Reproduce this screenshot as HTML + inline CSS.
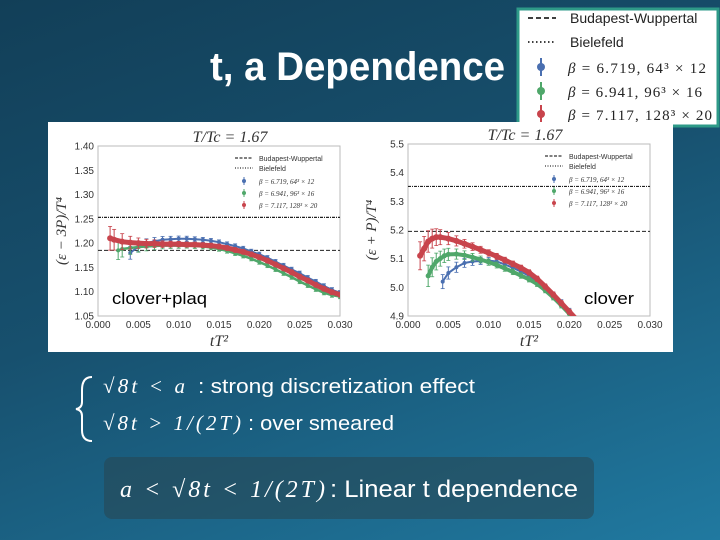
<!DOCTYPE html>
<html><head><meta charset="utf-8"><style>
body{margin:0;width:720px;height:540px;overflow:hidden;background:linear-gradient(160deg,#123f58 0%,#17506e 45%,#2079a0 100%);font-family:"Liberation Sans",sans-serif}
svg{position:absolute;left:0;top:0}
</style></head><body>
<svg width="720" height="540">
<text x="210" y="80" font-size="40" font-weight="bold" fill="#fff" textLength="295" lengthAdjust="spacingAndGlyphs">t, a Dependence</text>
<g>
<rect x="518" y="9" width="200" height="117" fill="#fff" stroke="#2e9a88" stroke-width="3"/>
<line x1="528" y1="18" x2="556" y2="18" stroke="#000" stroke-dasharray="5,3" stroke-width="1.5"/>
<text x="570" y="23" font-size="14" fill="#222">Budapest-Wuppertal</text>
<line x1="528" y1="42" x2="556" y2="42" stroke="#000" stroke-dasharray="1.5,2.5" stroke-width="1.5"/>
<text x="570" y="47" font-size="14" fill="#222">Bielefeld</text>
<g font-family="Liberation Serif" font-size="15" fill="#222">
<line x1="541" y1="58" x2="541" y2="76" stroke="#4a6fb0" stroke-width="2"/><circle cx="541" cy="67" r="4" fill="#4a6fb0"/>
<text x="568" y="73" textLength="138"><tspan font-style="italic">β</tspan> = 6.719, 64³ × 12</text>
<line x1="541" y1="82" x2="541" y2="100" stroke="#4fa76a" stroke-width="2"/><circle cx="541" cy="91" r="4" fill="#4fa76a"/>
<text x="568" y="97" textLength="134"><tspan font-style="italic">β</tspan> = 6.941, 96³ × 16</text>
<line x1="541" y1="105" x2="541" y2="123" stroke="#c8444c" stroke-width="2"/><circle cx="541" cy="114" r="4" fill="#c8444c"/>
<text x="568" y="120" textLength="144"><tspan font-style="italic">β</tspan> = 7.117, 128³ × 20</text>
</g></g>
<rect x="48" y="122" width="625" height="230" fill="#fff"/>
<g id="plots"></g>
<text x="112" y="304" font-size="17" fill="#000" textLength="95" lengthAdjust="spacingAndGlyphs">clover+plaq</text>
<text x="584" y="304" font-size="17" fill="#000" textLength="50" lengthAdjust="spacingAndGlyphs">clover</text>
<g fill="#fff">
<path d="M92,377 Q82,377 82,390 L82,402 Q82,408 76,409 Q82,410 82,416 L82,430 Q82,441 92,441" fill="none" stroke="#fff" stroke-width="2"/>
<text x="103" y="393" font-family="Liberation Serif" font-size="21" font-style="italic" textLength="82">√8t &lt; a</text>
<text x="198" y="393" font-size="20" textLength="277" lengthAdjust="spacingAndGlyphs">: strong discretization effect</text>
<text x="103" y="430" font-family="Liberation Serif" font-size="21" font-style="italic" textLength="138">√8t &gt; 1/(2T)</text>
<text x="248" y="430" font-size="20" textLength="146" lengthAdjust="spacingAndGlyphs">: over smeared</text>
</g>
<rect x="104" y="457" width="490" height="62" rx="8" fill="rgba(40,70,80,0.55)"/>
<text x="120" y="497" font-family="Liberation Serif" font-size="24" font-style="italic" fill="#fff" textLength="205">a &lt; √8t &lt; 1/(2T)</text>
<text x="330" y="497" font-size="24" fill="#fff" textLength="248" lengthAdjust="spacingAndGlyphs">: Linear t dependence</text>
</svg>
<script>
const xTicks=["0.000","0.005","0.010","0.015","0.020","0.025","0.030"];
const leftYTicks=[1.05,1.10,1.15,1.20,1.25,1.30,1.35,1.40];
const rightYTicks=[4.9,5.0,5.1,5.2,5.3,5.4,5.5];
const leftRefBW=1.185, leftRefBI=1.253, rightRefBW=5.195, rightRefBI=5.352;
const LredX=[.0015,.002,.003,.004,.005,.006,.007,.008,.009,.010,.011,.012,.013,.014,.015,.016,.017,.018,.019,.020,.021,.022,.023,.024,.025,.026,.027,.028,.029,.030];
const LredY=[1.21,1.207,1.203,1.201,1.200,1.199,1.199,1.198,1.198,1.198,1.197,1.197,1.196,1.195,1.193,1.190,1.186,1.182,1.177,1.171,1.164,1.156,1.148,1.140,1.131,1.123,1.114,1.106,1.099,1.094];
const LblueX=[.004,.005,.006,.007,.008,.009,.010,.011,.012,.013,.014,.015,.016,.017,.018,.019,.020,.021,.022,.023,.024,.025,.026,.027,.028,.029,.030];
const LblueY=[1.18,1.193,1.200,1.204,1.207,1.208,1.209,1.209,1.208,1.207,1.205,1.202,1.198,1.194,1.189,1.183,1.177,1.170,1.162,1.154,1.146,1.138,1.129,1.121,1.112,1.104,1.098];
const LgreenX=[.0025,.003,.004,.005,.006,.007,.008,.009,.010,.011,.012,.013,.014,.015,.016,.017,.018,.019,.020,.021,.022,.023,.024,.025,.026,.027,.028,.029,.030];
const LgreenY=[1.185,1.188,1.190,1.192,1.193,1.194,1.195,1.195,1.195,1.195,1.194,1.193,1.191,1.188,1.184,1.179,1.174,1.168,1.161,1.154,1.146,1.138,1.130,1.121,1.113,1.105,1.098,1.093,1.090];
const RredX=[.0015,.002,.0025,.003,.0035,.004,.005,.006,.007,.008,.009,.010,.011,.012,.013,.014,.015,.016,.017,.018,.019,.020,.021];
const RredY=[5.11,5.135,5.16,5.17,5.175,5.175,5.17,5.162,5.152,5.142,5.131,5.12,5.108,5.095,5.082,5.068,5.052,5.030,5.003,4.975,4.945,4.915,4.885];
const RgreenX=[.0025,.003,.0035,.004,.0045,.005,.006,.007,.008,.009,.010,.011,.012,.013,.014,.015,.016,.017,.018,.019,.020,.021];
const RgreenY=[5.04,5.07,5.09,5.10,5.11,5.115,5.116,5.112,5.105,5.097,5.088,5.078,5.066,5.054,5.041,5.028,5.012,4.99,4.965,4.937,4.908,4.88];
const RblueX=[.0043,.005,.006,.007,.008,.009,.010,.011,.012,.013,.014,.015,.016,.017,.018,.019,.020,.021];
const RblueY=[5.02,5.05,5.07,5.085,5.09,5.092,5.093,5.09,5.08,5.068,5.055,5.04,5.022,5.0,4.975,4.948,4.918,4.888];
const NS='http://www.w3.org/2000/svg';
const root=document.getElementById('plots');
function mk(tag,attrs,parent,txt){const e=document.createElementNS(NS,tag);for(const k in attrs)e.setAttribute(k,attrs[k]);if(txt!=null)e.textContent=txt;(parent||root).appendChild(e);return e;}
function panel(id,px0,px1,py0,py1,ymin,ymax,yticks,dec,ylab,refBW,refBI,series,errScale,titleX){
 const g=mk('g',{});
 
 
 const sx=v=>px0+(v/0.03)*(px1-px0);
 const sy=v=>py1-(v-ymin)/(ymax-ymin)*(py1-py0);
 mk('rect',{x:px0,y:py0,width:px1-px0,height:py1-py0,fill:'#fff',stroke:'#bbb'},g);
 const cp=mk('clipPath',{id:id+'-clip'},g);mk('rect',{x:px0,y:py0,width:px1-px0,height:py1-py0},cp);
 xTicks.forEach(t=>{const x=sx(parseFloat(t));const e=mk('text',{x:x,y:py1+12,'font-size':10,'text-anchor':'middle',fill:'#333'},g,t);
  
  });
 yticks.forEach(t=>{const e=mk('text',{x:px0-4,y:sy(t)+3.5,'font-size':10,'text-anchor':'end',fill:'#333'},g,t.toFixed(dec));
  
  });
 const xl=mk('text',{x:(px0+px1)/2,y:py1+30,'font-size':16,'font-style':'italic','font-family':'Liberation Serif','text-anchor':'middle',fill:'#333'},g,'tT²');
 
 
 const yl=mk('text',{x:0,y:0,'font-size':15,'font-style':'italic','font-family':'Liberation Serif','text-anchor':'middle',fill:'#333',transform:`translate(${px0-32},${(py0+py1)/2}) rotate(-90)`},g,ylab);
 
 
 const tt=mk('text',{x:titleX,y:py0-4,'font-size':16,'font-style':'italic','font-family':'Liberation Serif','text-anchor':'middle',fill:'#333'},g,'T/Tc = 1.67');
 
 
 const c=mk('g',{'clip-path':`url(#${id}-clip)`},g);
 const l1=mk('line',{x1:px0,x2:px1,y1:sy(refBW),y2:sy(refBW),stroke:'#222','stroke-dasharray':'4,2','stroke-width':1},c);
 
 
 const l2=mk('line',{x1:px0,x2:px1,y1:sy(refBI),y2:sy(refBI),stroke:'#222','stroke-dasharray':'3,1,1,1','stroke-width':1.2},c);
 
 
 series.forEach(s=>{
  const sg=mk('g',{},c);
  
  
  s.x.forEach((xv,i)=>{
   const err=errScale*(0.004+0.03*Math.exp(-xv/0.003));
   mk('line',{x1:sx(xv),x2:sx(xv),y1:sy(s.y[i]-err),y2:sy(s.y[i]+err),stroke:s.c,'stroke-width':1},sg);
   mk('line',{x1:sx(xv)-2,x2:sx(xv)+2,y1:sy(s.y[i]-err),y2:sy(s.y[i]-err),stroke:s.c,'stroke-width':0.8},sg);
   mk('line',{x1:sx(xv)-2,x2:sx(xv)+2,y1:sy(s.y[i]+err),y2:sy(s.y[i]+err),stroke:s.c,'stroke-width':0.8},sg);
   const p=mk('circle',{cx:sx(xv),cy:sy(s.y[i]),r:s.r,fill:s.c},sg);
   
   
  });
  if(s.line){const d=s.x.map((xv,i)=>(i?'L':'M')+sx(xv)+','+sy(s.y[i])).join('');
   mk('path',{d:d,fill:'none',stroke:s.c,'stroke-width':s.line},sg);}
 });
 const lg=mk('g',{'font-size':7,fill:'#333'},g);
 
 
 const lx=px1-105;
 mk('line',{x1:lx,x2:lx+18,y1:py0+12,y2:py0+12,stroke:'#000','stroke-dasharray':'3,1.5'},lg);
 mk('text',{x:lx+24,y:py0+15},lg,'Budapest-Wuppertal');
 mk('line',{x1:lx,x2:lx+18,y1:py0+22,y2:py0+22,stroke:'#000','stroke-dasharray':'1,1.5'},lg);
 mk('text',{x:lx+24,y:py0+25},lg,'Bielefeld');
 [['#4a6fb0','β = 6.719, 64³ × 12'],['#4fa76a','β = 6.941, 96³ × 16'],['#c8444c','β = 7.117, 128³ × 20']].forEach((a,i)=>{
  const yy=py0+35+i*12;
  mk('line',{x1:lx+9,x2:lx+9,y1:yy-4,y2:yy+4,stroke:a[0]},lg);
  mk('circle',{cx:lx+9,cy:yy,r:2,fill:a[0]},lg);
  mk('text',{x:lx+24,y:yy+3,'font-family':'Liberation Serif','font-style':'italic'},lg,a[1]);
 });
}
panel('left-plot',98,340,146,316,1.05,1.40,leftYTicks,2,'(ε − 3P)/T⁴',leftRefBW,leftRefBI,
 [{name:'series-beta-6719',x:LblueX,y:LblueY,c:'#4a6fb0',r:2,line:2},{name:'series-beta-6941',x:LgreenX,y:LgreenY,c:'#4fa76a',r:2,line:2.5},{name:'series-beta-7117',x:LredX,y:LredY,c:'#c8444c',r:3,line:5}],1.1,230);
panel('right-plot',408,650,144,316,4.9,5.5,rightYTicks,1,'(ε + P)/T⁴',rightRefBW,rightRefBI,
 [{name:'series-beta-6719',x:RblueX,y:RblueY,c:'#4a6fb0',r:2,line:2},{name:'series-beta-6941',x:RgreenX,y:RgreenY,c:'#4fa76a',r:2.5,line:4},{name:'series-beta-7117',x:RredX,y:RredY,c:'#c8444c',r:3,line:5}],2.2,525);
</script>
</body></html>
